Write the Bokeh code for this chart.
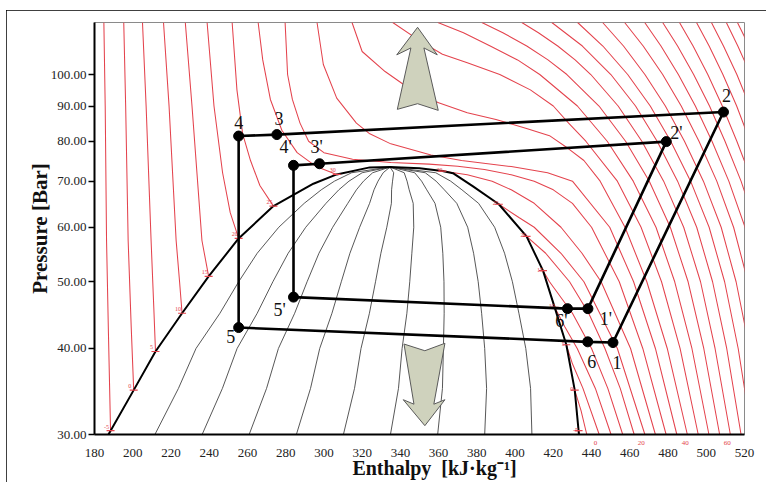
from bokeh.plotting import figure
from bokeh.models import Range1d, FixedTicker, PrintfTickFormatter, LinearAxis
from bokeh.embed import file_html
from bokeh.resources import INLINE
from bokeh.core.properties import value

FONT = "Liberation Serif"
RED = "#e4434d"

# ---------------- data ----------------
enthalpy_ticks = [180, 200, 220, 240, 260, 280, 300, 320, 340, 360, 380, 400, 420, 440, 460, 480, 500, 520]
pressure_ticks = [30, 40, 50, 60, 70, 80, 90, 100]

# saturation dome (liquid side up to critical point, then vapour side down)
dome_h = [187.3, 200.5, 211.9, 225.8, 239.7, 255.4, 273.6, 294.5, 306.7, 324.0, 334.6,
          350.0, 362.0, 367.5, 378.0, 391.5, 406.0, 414.6, 420.7, 426.8, 431.2, 433.4]
dome_p = [30.0, 34.8, 39.6, 45.0, 50.9, 57.8, 64.4, 69.4, 71.6, 73.3, 73.4,
          73.1, 72.4, 71.9, 68.8, 64.8, 58.2, 51.9, 45.9, 40.5, 34.8, 30.0]

# constant-quality lines x = 0.1 ... 0.9
quality_p = [30, 35, 40, 45, 50, 55, 60, 65, 68, 70, 72, 73.4]
quality_h = [
    [211.6, 223.9, 233.1, 245.6, 255.4, 265.1, 276.4, 289.7, 298.6, 305.5, 314.5, 334.6],
    [236.3, 246.9, 254.6, 265.1, 273.3, 281.3, 290.5, 301.1, 307.8, 313.1, 320.0, 334.6],
    [260.9, 270.0, 276.2, 284.7, 291.2, 297.4, 304.6, 312.5, 317.0, 320.7, 325.5, 334.6],
    [285.6, 293.0, 297.8, 304.2, 309.1, 313.6, 318.7, 323.9, 326.2, 328.3, 331.0, 334.6],
    [310.2, 316.0, 319.4, 323.8, 327.0, 329.8, 332.9, 335.3, 335.4, 335.9, 336.5, 334.6],
    [334.8, 339.0, 340.9, 343.4, 344.9, 346.0, 347.0, 346.7, 344.6, 343.5, 342.0, 334.6],
    [359.5, 362.0, 362.5, 362.9, 362.8, 362.2, 361.1, 358.1, 353.8, 351.1, 347.5, 334.6],
    [384.1, 385.1, 384.1, 382.5, 380.7, 378.3, 375.2, 369.5, 363.0, 358.7, 353.0, 334.6],
    [408.8, 408.1, 405.6, 402.0, 398.6, 394.5, 389.3, 380.9, 372.2, 366.3, 358.5, 334.6],
]

# isotherms, liquid branches (deg C)
liquid_T = ["-5", "0", "5", "10", "15", "20", "25", "30"]
liquid_h = [
    [184.9, 185.6, 186.3, 187.3, 188.4],
    [195.3, 196.3, 197.6, 199.2, 200.5],
    [205.1, 207.0, 209.6, 211.0, 211.9],
    [216.1, 219.0, 222.7, 224.5, 225.8],
    [227.5, 231.0, 236.2, 239.7],
    [238.9, 242.5, 247.0, 251.0, 255.4],
    [252.0, 254.5, 257.5, 261.6, 266.5, 273.6],
    [265.6, 268.0, 272.0, 278.0, 286.0, 296.0, 306.7],
]
liquid_p = [
    [119, 90, 57.4, 42, 30.4],
    [119, 90, 57.4, 43, 34.8],
    [119, 90, 57.4, 46, 39.6],
    [119, 90, 57.4, 50, 45.0],
    [119, 90, 57.4, 50.9],
    [119, 90, 72, 63, 57.8],
    [119, 95, 82, 75, 69, 64.4],
    [119, 105, 92, 83, 77, 73.5, 71.6],
]

# isotherms, vapour branches
vapor_T = ["-5", "0", "5", "10", "15", "20", "25", "30"]
vapor_h = [
    [433.2, 433.6],
    [431.2, 434.5, 437.5],
    [426.8, 430.0, 435.5, 444.0],
    [420.7, 426.0, 432.5, 442.0, 450.2],
    [414.6, 418.0, 430.0, 440.0, 448.5, 456.3],
    [406.0, 416.0, 428.5, 438.5, 447.0, 455.0, 462.3],
    [391.5, 402.0, 410.0, 424.0, 436.0, 453.5, 467.9],
    [362.0, 375.0, 388.0, 398.0, 410.0, 424.0, 435.0, 445.0, 460.4, 473.4],
]
vapor_p = [
    [30.4, 30.0],
    [34.8, 32.5, 30],
    [40.5, 38, 35, 30],
    [45.9, 43, 40, 35, 30],
    [51.9, 50, 45, 40, 35, 30],
    [58.2, 55, 50, 45, 40, 35, 30],
    [64.8, 62, 60, 55, 50, 40, 30],
    [72.4, 71.5, 70, 68, 65, 60, 55, 50, 40, 30],
]

# supercritical isotherms 35 ... 120 deg C
super_T = [35, 40, 45, 50, 55, 60, 65, 70, 75, 80, 85, 90, 95, 100, 105, 110, 115, 120]
hot_p = [119, 110, 100, 90, 80, 70, 60, 50, 40, 30]
super_h = [
    [279.7, 281.0, 283.5, 287.5, 292.0, 300.0, 315.0, 335.0, 355.0, 370.0, 384.0, 398.0, 410.0, 420.0, 430.0, 440.0, 454.5, 466.8, 479.0],
    [296.4, 299.7, 306.7, 317.0, 324.0, 335.0, 356.0, 372.0, 398.0, 417.0, 430.0, 449.5, 462.0, 473.4, 484.6],
    [314.7, 320.0, 332.0, 348.0, 360.0, 375.0, 390.0, 406.0, 418.0, 428.0, 436.0, 444.5, 457.5, 468.9, 479.6, 490.1],
    [336.0, 350.0, 362.0, 375.0, 392.0, 408.0, 420.0, 428.0, 437.0, 453.5, 465.9, 476.6, 486.3, 495.8],
    [359.6, 373.0, 387.0, 401.3, 412.9, 432.6, 448.2, 461.8, 473.7, 483.5, 492.5, 501.4],
    [382.6, 393.6, 406.1, 417.2, 427.1, 443.9, 457.8, 470.2, 481.2, 490.5, 498.7, 507.0],
    [403.5, 412.2, 422.3, 431.4, 439.6, 453.9, 466.3, 477.7, 488.2, 497.0, 504.6, 512.6],
    [419.2, 435.2, 450.1, 463.0, 474.3, 485.0, 495.0, 503.3, 510.7, 518.2],
    [432.7, 445.9, 458.9, 470.7, 481.4, 491.8, 501.5, 509.6, 516.7, 523.8],
    [445.8, 456.7, 467.9, 478.6, 488.6, 498.5, 507.8, 515.6, 522.6, 529.4],
    [457.3, 467.0, 477.2, 486.9, 496.2, 505.5, 514.3, 521.8, 528.4, 535.0],
    [467.8, 476.3, 485.4, 494.3, 503.0, 511.8, 520.3, 527.6, 534.0, 540.5],
    [477.2, 485.0, 493.4, 501.7, 509.8, 518.2, 526.3, 533.2, 539.6, 546.0],
    [486.0, 493.1, 500.8, 508.4, 516.0, 524.0, 531.7, 538.6, 545.1, 551.5],
    [494.9, 501.5, 508.7, 515.9, 522.9, 530.4, 537.6, 544.3, 550.7, 557.0],
    [502.7, 509.0, 516.0, 522.8, 529.6, 536.6, 543.5, 550.0, 556.3, 562.5],
    [510.5, 516.5, 523.2, 529.8, 536.3, 542.9, 549.4, 555.7, 561.9, 568.0],
    [516.3, 522.4, 529.2, 535.8, 542.3, 548.8, 555.2, 561.4, 567.5, 573.5],
]
super_p = [
    [119, 100, 92, 85, 80, 77, 75.3, 74.5, 74.1, 73.6, 72.8, 71.5, 70, 68, 65, 60, 50, 40, 30],
    [119, 103.4, 92.4, 85, 82, 79.3, 76.4, 75, 73.5, 72, 70, 60, 50, 40, 30],
    [119, 108, 101, 94, 91, 88, 86, 83.5, 81.5, 78, 75, 70, 60, 50, 40, 30],
    [119, 112, 107, 104, 100, 95, 90, 85, 80, 70, 60, 50, 40, 30],
    [119, 115, 110, 105, 100, 90, 80, 70, 60, 50, 40, 30],
    [119, 115, 110, 105, 100, 90, 80, 70, 60, 50, 40, 30],
    [119, 115, 110, 105, 100, 90, 80, 70, 60, 50, 40, 30],
] + [hot_p] * 11

# temperature labels under the 30 bar line (isotherm crossings)
bottom_labels = ["0", "20", "40", "60"]
bottom_label_h = [437.5, 462.3, 484.6, 507.0]

# refrigeration cycles
cycle_h = [451.2, 509.0, 275.4, 255.4, 255.4, 438.0, 451.2]
cycle_p = [40.8, 88.2, 81.8, 81.4, 42.9, 40.9, 40.8]
cycle2_h = [438.1, 479.1, 297.7, 284.1, 284.1, 427.4, 438.1]
cycle2_p = [45.7, 79.9, 74.2, 73.8, 47.5, 45.7, 45.7]
state_names = ["1", "2", "3", "4", "5", "6", "1'", "2'", "3'", "4'", "5'", "6'"]
state_h = [451.2, 509.0, 275.4, 255.4, 255.4, 438.0, 438.1, 479.1, 297.7, 284.1, 284.1, 427.4]
state_p = [40.8, 88.2, 81.8, 81.4, 42.9, 40.9, 45.7, 79.9, 74.2, 73.8, 47.5, 45.7]

# block arrows
arrow_up_h = [349.0, 359.3, 352.3, 359.8, 349.0, 338.4, 345.5, 338.1]
arrow_up_p = [117.1, 106.8, 109.3, 88.7, 90.7, 89.0, 109.3, 106.8]
arrow_dn_h = [341.9, 352.8, 363.3, 357.5, 363.3, 352.8, 341.5, 347.1]
arrow_dn_p = [40.6, 39.7, 40.7, 33.2, 33.7, 30.9, 33.7, 33.2]

# ---------------- figure ----------------
W, H = 760, 472
p = figure(width=W, height=H, x_range=Range1d(180, 520), y_range=Range1d(30, 119),
           y_axis_type="log", x_axis_location=None,
           output_backend="svg", toolbar_location=None,
           min_border_left=88, min_border_right=22, min_border_top=12, min_border_bottom=48)
p.styles = {"margin-left": "6px", "margin-top": "10px",
            "outline": "2px solid black", "outline-offset": "-2px"}
p.grid.visible = False
p.outline_line_color = "#8a8a8a"
p.outline_line_width = 1
p.background_fill_color = "white"
p.border_fill_color = "white"

# isotherms
p.multi_line(xs=liquid_h, ys=liquid_p, line_color=RED, line_width=1.05)
p.multi_line(xs=vapor_h, ys=vapor_p, line_color=RED, line_width=1.05)
p.multi_line(xs=super_h, ys=super_p, line_color=RED, line_width=1.05)

# quality lines and dome
p.multi_line(xs=quality_h, ys=[quality_p] * len(quality_h), line_color="#444444", line_width=0.9)
p.line(dome_h, dome_p, line_color="black", line_width=2)

# dome temperature marks
liq_end_h = [h[-1] for h in liquid_h]
liq_end_p = [pp[-1] for pp in liquid_p]
vap_start_h = [h[0] for h in vapor_h]
vap_start_p = [pp[0] for pp in vapor_p]
p.scatter(liq_end_h + vap_start_h, liq_end_p + vap_start_p, marker="dash", size=8,
          line_color=RED, line_width=1.2)
p.text(liq_end_h, liq_end_p, text=liquid_T, x_offset=-4, y_offset=-4, text_color=RED,
       text_font=value(FONT), text_font_size="6px", text_align="center", text_baseline="middle")
p.text(vap_start_h, vap_start_p, text=vapor_T, x_offset=-3, y_offset=-1, text_color=RED,
       text_font=value(FONT), text_font_size="6px", text_align="center", text_baseline="middle")

# arrows
p.patch(arrow_up_h, arrow_up_p, fill_color="#cfd2bd", line_color="#5a5a5a", line_width=1)
p.patch(arrow_dn_h, arrow_dn_p, fill_color="#cfd2bd", line_color="#5a5a5a", line_width=1)

# cycles
p.line(cycle_h, cycle_p, line_color="black", line_width=2.6)
p.line(cycle2_h, cycle2_p, line_color="black", line_width=2.6)
p.scatter(state_h, state_p, size=10, fill_color="black", line_color="black")
lab_dx = [4, 3, 2, 0, -8, 4, 18, 10, -3, -8, -14, -6]
lab_dy = [20, -17, -16, -14, 9, 20, 10, -9, -17, -18, 13, 12]
p.text(state_h, state_p, text=state_names, x_offset=lab_dx, y_offset=lab_dy,
       text_font=value(FONT), text_font_size="18px", text_color="#111111",
       text_align="center", text_baseline="middle")

# x axes: first the small red temperature labels right under the frame, then the main one
label_ticks = [int(round(h + 4)) for h in bottom_label_h]
red_axis = LinearAxis(ticker=FixedTicker(ticks=label_ticks),
                      major_label_overrides={t: s for t, s in zip(label_ticks, bottom_labels)})
red_axis.axis_line_width = 2
red_axis.axis_line_color = "black"
red_axis.major_tick_line_color = None
red_axis.minor_tick_line_color = None
red_axis.major_label_text_color = RED
red_axis.major_label_text_font = FONT
red_axis.major_label_text_font_size = "7px"
red_axis.major_label_standoff = 0
p.add_layout(red_axis, "below")

main_axis = LinearAxis(ticker=FixedTicker(ticks=enthalpy_ticks),
                       axis_label="\u00a0" * 6 + "Enthalpy\u00a0\u00a0[kJ\u00b7kg\u207b\u00b9]")
main_axis.axis_line_color = None
main_axis.major_tick_line_color = None
main_axis.minor_tick_line_color = None
main_axis.major_label_text_font = FONT
main_axis.major_label_text_font_size = "13px"
main_axis.major_label_text_color = "#222222"
main_axis.major_label_standoff = -5
main_axis.axis_label_text_font = FONT
main_axis.axis_label_text_font_style = "bold"
main_axis.axis_label_text_font_size = "20px"
main_axis.axis_label_text_color = "#111111"
main_axis.axis_label_standoff = -3
p.add_layout(main_axis, "below")

# y axis
p.yaxis.ticker = FixedTicker(ticks=pressure_ticks)
p.yaxis.formatter = PrintfTickFormatter(format="%.2f")
p.yaxis.axis_label = "Pressure [Bar]"
p.yaxis.axis_line_width = 2
p.yaxis.axis_line_color = "black"
p.yaxis.major_label_text_font = FONT
p.yaxis.major_label_text_font_size = "13px"
p.yaxis.major_label_text_color = "#222222"
p.yaxis.axis_label_text_font = FONT
p.yaxis.axis_label_text_font_style = "bold"
p.yaxis.axis_label_text_font_size = "21px"
p.yaxis.axis_label_text_color = "#111111"
p.yaxis.minor_tick_line_color = None
p.yaxis.major_tick_in = 0
p.yaxis.major_tick_out = 6
p.yaxis.major_tick_line_width = 1.5
p.yaxis.major_label_standoff = 2
p.yaxis.axis_label_standoff = -4

open("out.html", "w").write(file_html(p, INLINE))
